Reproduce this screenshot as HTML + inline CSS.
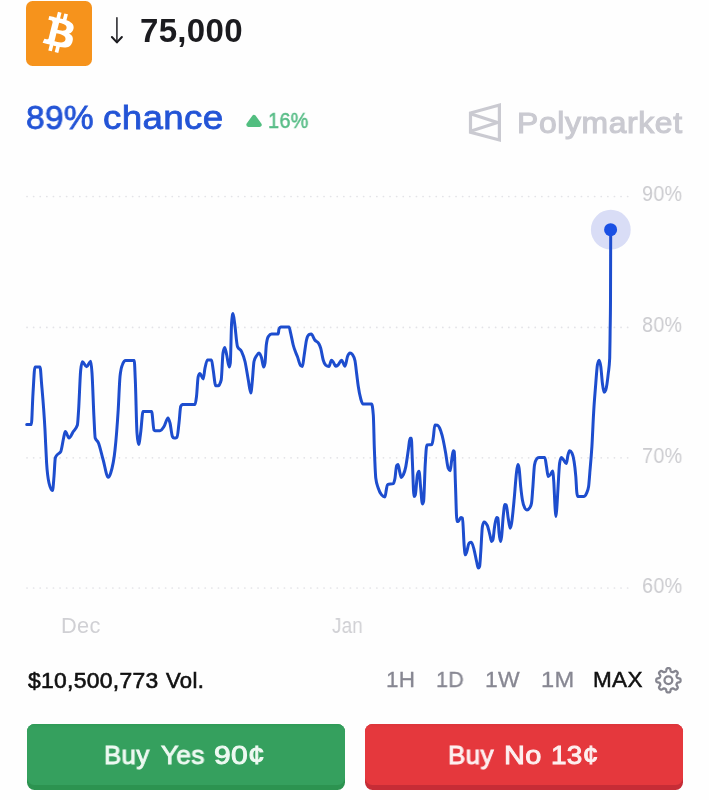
<!DOCTYPE html>
<html><head><meta charset="utf-8">
<style>
html,body{margin:0;padding:0;}
body{width:709px;height:800px;background:#fefefe;position:relative;overflow:hidden;font-family:"Liberation Sans",sans-serif;}
.abs{position:absolute;white-space:nowrap;line-height:1;will-change:transform;}
#btc{left:26.1px;top:1px;width:66.2px;height:65px;border-radius:6.5px;background:#f6931c;}
.btn{position:absolute;top:724px;height:66px;border-radius:7.5px;}
.btn i{position:absolute;left:0;top:0;width:100%;height:60.5px;border-radius:7.5px;}
#yes{left:26.6px;width:318px;background:#2c9350;}
#yes i{background:linear-gradient(#2f9b57 0,#35a05e 4px,#35a05e 100%);}
#no{left:365px;width:318px;background:#c62c36;}
#no i{background:linear-gradient(#dd353a 0,#e5383d 4px,#e5383d 100%);}
</style></head><body>
<div class="abs" id="btc"></div>
<div class="btn" id="yes"><i></i></div>
<div class="btn" id="no"><i></i></div>
<svg class="abs" style="left:0;top:0" width="709" height="800" viewBox="0 0 709 800">
  <!-- bitcoin glyph -->
  <path transform="translate(26.800,0.500) scale(1.015)" fill="#fff" d="M46.103,27.444c0.637-4.258-2.605-6.547-7.038-8.074l1.438-5.768-3.511-0.875-1.400,5.616c-0.923-0.230-1.871-0.447-2.813-0.662l1.410-5.653-3.509-0.875-1.439,5.766c-0.764-0.174-1.514-0.346-2.242-0.527l0.004-0.018-4.842-1.209-0.934,3.750s2.605,0.597,2.550,0.634c1.422,0.355,1.679,1.296,1.636,2.042l-1.638,6.571c0.098,0.025,0.225,0.061,0.365,0.117-0.117-0.029-0.242-0.061-0.371-0.092l-2.296,9.205c-0.174,0.432-0.615,1.080-1.609,0.834,0.035,0.051-2.552-0.637-2.552-0.637l-1.743,4.019,4.569,1.139c0.850,0.213,1.683,0.436,2.503,0.646l-1.453,5.834,3.507,0.875,1.439-5.772c0.958,0.260,1.888,0.500,2.798,0.726l-1.434,5.745,3.511,0.875,1.453-5.823c5.987,1.133,10.489,0.676,12.384-4.739,1.527-4.360-0.076-6.875-3.226-8.515,2.294-0.529,4.022-2.038,4.483-5.155zM38.081,38.693c-1.085,4.360-8.426,2.003-10.806,1.412l1.928-7.729c2.380,0.594,10.012,1.770,8.878,6.317zM39.167,27.381c-0.990,3.966-7.100,1.951-9.082,1.457l1.748-7.010c1.982,0.494,8.365,1.416,7.334,5.553z"/>
  <!-- arrow -->
  <path d="M116.900,17.800 V42" fill="none" stroke="#3a3a3e" stroke-width="1.700" stroke-linecap="round"/><path d="M111.900,37 L116.900,42.400 L121.900,37" fill="none" stroke="#1b1b1f" stroke-width="2" stroke-linecap="round" stroke-linejoin="round"/>
  <!-- up triangle -->
  <path d="M254,116.900 L259.600,124.800 H248.400 Z" fill="#52be80" stroke="#52be80" stroke-width="4.200" stroke-linejoin="round"/>
  <!-- polymarket logo -->
  <g fill="none" stroke="#cacad1" stroke-width="3.200" stroke-linejoin="miter">
    <path d="M470.500,113 L499.400,105 V140 L470.500,132.300 Z"/>
    <path d="M472,114.300 L497.500,122.500 L472,130.700" stroke-linejoin="bevel"/>
  </g>
  <!-- gridlines -->
  <g stroke="#e3e3e7" stroke-width="1.700" stroke-dasharray="0.100 6.500" stroke-linecap="round">
    <line x1="27" y1="196.500" x2="629" y2="196.500"/>
    <line x1="27" y1="327.400" x2="629" y2="327.400"/>
    <line x1="27" y1="457.800" x2="629" y2="457.800"/>
    <line x1="27" y1="588" x2="629" y2="588"/>
  </g>
  <circle cx="610.800" cy="229.700" r="19.900" fill="#d9ddf6"/>
  <path d="M26.7,424.6 C28.2,424.6 29.8,424.6 31.3,424.6 C31.9,424.6 32.4,402.4 33.0,393.3 C33.7,382.6 34.3,367.0 35.0,367.0 C36.7,367.0 38.3,367.0 40.0,367.0 C40.6,367.0 41.1,378.4 41.7,385.0 C42.8,397.8 43.9,409.8 45.0,430.0 C45.5,439.8 46.1,454.6 46.6,463.0 C47.4,475.6 48.2,479.5 49.0,483.0 C50.2,488.1 51.3,490.6 52.5,490.6 C53.0,490.6 53.5,482.5 54.0,476.5 C54.4,471.3 54.9,459.5 55.3,458.0 C55.9,456.0 56.4,455.9 57.0,455.0 C58.3,453.1 59.5,453.8 60.8,451.5 C61.7,449.8 62.7,441.9 63.6,438.0 C64.2,435.6 64.7,431.5 65.3,431.5 C66.5,431.5 67.8,438.0 69.0,438.0 C70.4,438.0 71.9,433.7 73.3,431.5 C74.7,429.4 76.0,429.3 77.4,425.0 C77.8,423.7 78.2,416.0 78.6,410.0 C79.3,399.6 80.0,376.8 80.7,370.0 C81.3,364.5 81.8,361.7 82.4,361.7 C83.8,361.7 85.2,366.7 86.6,366.7 C88.0,366.7 89.3,361.3 90.7,361.3 C91.1,361.3 91.6,366.8 92.0,373.0 C92.7,382.5 93.3,405.4 94.0,418.0 C94.4,425.5 94.8,436.8 95.2,438.0 C96.2,440.9 97.2,440.2 98.2,442.4 C99.9,446.1 101.5,454.2 103.2,460.0 C104.9,465.8 106.5,477.3 108.2,477.3 C109.0,477.3 109.9,475.5 110.7,473.0 C112.1,468.6 113.6,463.5 115.0,450.0 C116.1,439.9 117.1,427.5 118.2,410.0 C118.8,400.2 119.4,382.7 120.0,376.6 C120.8,368.9 121.5,367.0 122.3,365.0 C123.4,362.0 124.6,360.5 125.7,360.5 C128.5,360.5 131.4,360.5 134.2,360.5 C134.6,360.5 134.9,371.6 135.3,380.0 C135.9,393.0 136.4,424.9 137.0,433.0 C137.5,440.7 138.1,444.5 138.6,444.5 C139.3,444.5 140.1,437.0 140.8,431.5 C141.5,426.0 142.3,411.5 143.0,411.5 C145.9,411.5 148.7,411.5 151.6,411.5 C152.4,411.5 153.2,428.9 154.0,430.0 C154.3,430.5 154.7,430.7 155.0,430.7 C156.7,430.7 158.3,430.7 160.0,430.7 C161.3,430.7 162.7,428.6 164.0,426.5 C165.3,424.4 166.7,418.0 168.0,418.0 C168.7,418.0 169.3,420.4 170.0,423.0 C170.8,426.1 171.6,435.0 172.4,436.5 C172.9,437.5 173.5,438.0 174.0,438.0 C175.0,438.0 176.0,437.8 177.0,437.3 C177.7,437.0 178.3,428.7 179.0,423.0 C179.6,418.2 180.1,407.8 180.7,406.5 C181.3,405.2 181.8,404.5 182.4,404.5 C186.6,404.5 190.8,404.5 195.0,404.5 C195.5,404.5 196.0,400.7 196.5,396.5 C197.1,391.8 197.6,378.5 198.2,376.6 C198.8,374.6 199.4,373.6 200.0,373.6 C201.1,373.6 202.1,379.0 203.2,379.0 C203.8,379.0 204.4,371.0 205.0,368.0 C205.8,364.1 206.6,360.0 207.4,360.0 C208.8,360.0 210.1,360.0 211.5,360.0 C212.1,360.0 212.6,366.6 213.2,370.0 C214.0,375.0 214.9,385.7 215.7,385.7 C216.5,385.7 217.4,385.7 218.2,385.7 C219.2,385.7 220.2,383.8 221.2,380.0 C221.8,377.7 222.4,357.0 223.0,353.0 C223.6,349.3 224.1,347.4 224.7,347.4 C225.4,347.4 226.0,352.2 226.7,355.0 C227.5,358.5 228.4,367.0 229.2,367.0 C229.6,367.0 229.9,365.7 230.3,363.0 C230.7,359.8 231.2,328.8 231.6,323.0 C232.1,316.7 232.5,313.6 233.0,313.6 C233.5,313.6 234.1,319.4 234.6,323.0 C235.6,329.5 236.5,344.2 237.5,346.6 C238.9,349.9 240.2,348.7 241.6,351.6 C242.7,354.0 243.9,356.7 245.0,361.5 C246.1,366.2 247.2,374.1 248.3,380.0 C249.1,384.5 250.0,393.0 250.8,393.0 C251.3,393.0 251.9,385.2 252.4,380.0 C252.9,374.8 253.5,363.9 254.0,361.5 C254.9,357.6 255.7,357.1 256.6,355.7 C257.4,354.4 258.2,353.0 259.0,353.0 C259.9,353.0 260.7,355.1 261.6,358.0 C262.3,360.3 262.9,367.0 263.6,367.0 C264.1,367.0 264.5,365.7 265.0,363.0 C265.4,360.5 265.9,348.6 266.3,345.0 C267.0,339.4 267.6,337.7 268.3,336.6 C269.4,334.9 270.5,334.0 271.6,334.0 C273.8,334.0 276.0,334.0 278.2,334.0 C278.5,334.0 278.7,329.6 279.0,329.0 C279.6,327.7 280.1,327.0 280.7,327.0 C283.5,327.0 286.2,327.0 289.0,327.0 C289.6,327.0 290.1,331.0 290.7,333.3 C291.5,336.7 292.4,341.7 293.2,345.0 C294.6,350.6 296.0,352.7 297.4,356.6 C298.5,359.6 299.6,364.7 300.7,365.7 C301.3,366.2 301.8,366.5 302.4,366.5 C302.9,366.5 303.5,360.0 304.0,356.6 C304.8,351.3 305.7,343.6 306.5,340.0 C307.3,336.4 308.2,335.1 309.0,334.6 C309.7,334.2 310.5,334.0 311.2,334.0 C312.4,334.0 313.6,338.4 314.8,340.0 C316.2,341.9 317.6,341.3 319.0,344.0 C319.6,345.1 320.1,346.3 320.7,348.2 C321.5,351.0 322.4,357.2 323.2,360.0 C324.0,362.8 324.9,364.5 325.7,365.2 C326.8,366.1 327.9,366.5 329.0,366.5 C329.8,366.5 330.6,360.2 331.4,360.2 C332.1,360.2 332.8,361.5 333.5,362.5 C334.2,363.5 334.9,366.2 335.6,366.2 C336.4,366.2 337.2,365.7 338.0,365.0 C339.2,364.0 340.4,360.3 341.6,360.3 C342.7,360.3 343.9,366.3 345.0,366.3 C345.8,366.3 346.7,358.8 347.5,356.6 C348.3,354.4 349.2,353.0 350.0,353.0 C350.8,353.0 351.7,353.5 352.5,354.6 C353.3,355.7 354.2,356.7 355.0,360.8 C355.5,363.4 356.1,369.1 356.6,373.3 C357.2,377.7 357.7,382.8 358.3,386.6 C359.1,392.2 360.0,396.1 360.8,399.0 C361.5,401.6 362.3,404.0 363.0,404.0 C365.9,404.0 368.7,404.0 371.6,404.0 C372.2,404.0 372.7,407.7 373.3,415.0 C373.7,419.7 374.0,440.2 374.4,450.0 C374.9,462.5 375.3,474.5 375.8,478.2 C376.6,484.9 377.5,485.6 378.3,488.2 C379.4,491.7 380.5,493.6 381.6,494.9 C382.7,496.2 383.9,496.9 385.0,496.9 C385.4,496.9 385.9,492.0 386.3,489.9 C386.7,487.9 387.1,484.7 387.5,484.6 C389.4,483.9 391.4,484.3 393.3,483.6 C393.9,483.4 394.4,481.4 395.0,478.2 C395.5,475.2 396.1,466.5 396.6,465.7 C397.1,465.0 397.5,464.6 398.0,464.6 C398.7,464.6 399.3,470.8 400.0,473.2 C400.4,474.8 400.9,477.4 401.3,477.4 C402.0,477.4 402.6,476.3 403.3,474.9 C404.1,473.1 405.0,470.8 405.8,466.6 C406.6,462.5 407.5,455.7 408.3,450.0 C408.9,446.2 409.4,438.3 410.0,438.3 C410.4,438.3 410.9,438.3 411.3,438.3 C411.7,438.3 412.0,453.7 412.4,461.6 C412.9,473.0 413.5,496.5 414.0,496.5 C414.4,496.5 414.9,496.0 415.3,494.9 C416.0,493.2 416.7,478.1 417.4,474.9 C417.9,472.4 418.5,471.2 419.0,471.2 C419.6,471.2 420.1,482.7 420.7,488.2 C421.3,493.7 421.8,504.0 422.4,504.0 C422.8,504.0 423.2,503.2 423.6,501.5 C424.1,499.3 424.7,474.2 425.2,464.9 C425.8,455.0 426.3,445.1 426.9,445.0 C428.6,444.7 430.2,444.9 431.9,444.6 C432.3,444.5 432.8,441.0 433.2,438.3 C433.8,434.8 434.3,425.0 434.9,425.0 C435.7,425.0 436.6,425.1 437.4,425.3 C438.5,425.6 439.6,427.7 440.7,430.8 C441.5,433.1 442.4,436.2 443.2,440.0 C444.0,443.8 444.9,448.6 445.7,453.3 C446.5,458.0 447.4,466.1 448.2,468.2 C448.9,469.9 449.5,470.7 450.2,470.7 C450.6,470.7 451.1,464.5 451.5,461.6 C452.1,457.8 452.6,450.8 453.2,450.8 C453.6,450.8 453.9,451.1 454.3,451.6 C454.6,452.1 455.0,471.0 455.3,480.0 C455.9,495.3 456.4,521.5 457.0,521.5 C457.4,521.5 457.9,521.5 458.3,521.5 C459.1,521.5 460.0,517.4 460.8,517.4 C461.4,517.4 461.9,517.7 462.5,518.2 C463.0,518.7 463.6,538.5 464.1,544.8 C464.5,549.6 464.9,554.8 465.3,554.8 C465.7,554.8 466.2,553.4 466.6,552.3 C467.4,550.2 468.3,543.9 469.1,543.2 C469.8,542.6 470.6,542.3 471.3,542.3 C472.2,542.3 473.2,546.3 474.1,549.8 C474.9,552.9 475.8,558.0 476.6,561.5 C477.2,563.9 477.7,568.1 478.3,568.1 C478.7,568.1 479.2,567.6 479.6,566.5 C480.0,565.5 480.4,557.0 480.8,551.5 C481.3,544.1 481.9,529.4 482.4,526.5 C483.0,523.4 483.5,521.9 484.1,521.9 C485.2,521.9 486.3,523.2 487.4,525.7 C488.2,527.6 489.1,531.7 489.9,534.9 C490.5,537.1 491.0,541.5 491.6,541.5 C492.0,541.5 492.5,540.9 492.9,539.8 C493.5,538.3 494.0,530.1 494.6,526.5 C495.3,522.3 495.9,517.4 496.6,517.4 C497.0,517.4 497.5,517.7 497.9,518.2 C498.3,518.7 498.7,529.4 499.1,533.2 C499.5,537.3 500.0,541.5 500.4,541.5 C500.8,541.5 501.2,539.6 501.6,536.5 C502.1,532.4 502.7,521.7 503.2,516.5 C503.8,510.9 504.3,504.6 504.9,504.6 C505.3,504.6 505.8,504.7 506.2,504.9 C506.9,505.2 507.5,514.3 508.2,518.2 C508.9,522.1 509.5,528.2 510.2,528.2 C510.7,528.2 511.1,525.8 511.6,523.2 C512.4,518.5 513.3,508.5 514.1,499.9 C514.9,491.3 515.8,477.8 516.6,471.6 C517.0,468.4 517.5,464.6 517.9,464.6 C518.3,464.6 518.7,465.8 519.1,468.3 C519.6,471.6 520.2,481.4 520.7,486.6 C521.3,492.1 521.8,496.5 522.4,499.9 C523.2,504.9 524.1,506.8 524.9,508.2 C525.6,509.3 526.2,509.9 526.9,509.9 C527.9,509.9 528.9,509.1 529.9,507.4 C530.4,506.5 531.0,506.0 531.5,503.2 C532.0,500.8 532.4,492.5 532.9,486.6 C533.4,479.9 534.0,468.1 534.5,465.0 C535.2,461.1 535.8,460.0 536.5,459.1 C537.3,458.0 538.2,457.5 539.0,457.5 C540.9,457.5 542.9,457.5 544.8,457.5 C545.4,457.5 545.9,463.4 546.5,466.6 C547.1,469.8 547.6,476.6 548.2,476.6 C549.0,476.6 549.9,475.2 550.7,474.1 C551.3,473.2 552.0,471.0 552.6,471.0 C553.0,471.0 553.4,476.3 553.8,482.0 C554.2,488.2 554.7,501.8 555.1,508.0 C555.4,511.8 555.6,516.5 555.9,516.5 C556.2,516.5 556.5,511.7 556.8,508.0 C557.2,503.0 557.6,494.7 558.0,488.2 C558.5,479.6 559.1,466.8 559.6,463.2 C560.2,459.3 560.7,457.4 561.3,457.4 C562.1,457.4 562.8,459.0 563.6,459.9 C564.5,461.0 565.4,463.5 566.3,463.5 C566.9,463.5 567.4,457.1 568.0,454.9 C568.5,452.9 569.1,450.7 569.6,450.7 C570.4,450.7 571.2,451.5 572.0,453.2 C572.7,454.7 573.4,456.8 574.1,461.5 C574.7,465.3 575.2,469.3 575.8,476.5 C576.2,481.1 576.5,490.6 576.9,493.1 C577.2,495.4 577.6,496.5 577.9,496.5 C579.8,496.5 581.7,496.5 583.6,496.5 C584.6,496.5 585.6,495.4 586.6,493.1 C587.3,491.6 587.9,490.9 588.6,486.5 C589.0,483.6 589.5,476.7 589.9,471.5 C590.6,463.6 591.2,457.5 591.9,446.6 C592.5,437.4 593.0,422.9 593.6,413.3 C594.3,400.8 595.1,392.3 595.8,383.2 C596.3,376.6 596.9,368.0 597.4,365.0 C598.0,361.8 598.5,360.2 599.1,360.2 C599.7,360.2 600.2,362.5 600.8,366.6 C601.3,370.4 601.9,379.0 602.4,383.2 C603.0,387.7 603.5,392.3 604.1,392.3 C604.7,392.3 605.2,391.5 605.8,389.9 C606.6,387.5 607.5,380.9 608.3,373.2 C608.8,368.9 609.2,368.2 609.7,358.2 C609.8,355.3 610.0,343.0 610.1,333.3 C610.2,323.6 610.4,322.2 610.5,300.0 C610.6,288.9 610.6,253.3 610.7,230.0" fill="none" stroke="#1d4dce" stroke-width="3" stroke-linejoin="round" stroke-linecap="round"/>
  <circle cx="610.600" cy="229.700" r="6.500" fill="#1a50e4"/>
  <!-- gear -->
  <g transform="translate(668.400,680.300)" fill="none" stroke="#85858f" stroke-width="2.300" stroke-linejoin="round">
    <circle r="3.900"/>
    <path d="M0.00,-12.15 L0.32,-12.14 L0.63,-12.11 L0.95,-12.05 L1.25,-11.94 L1.54,-11.72 L1.80,-11.34 L1.99,-10.75 L2.13,-10.04 L2.27,-9.45 L2.43,-9.06 L2.61,-8.82 L2.82,-8.67 L3.03,-8.55 L3.25,-8.45 L3.46,-8.36 L3.68,-8.27 L3.91,-8.19 L4.14,-8.12 L4.39,-8.08 L4.69,-8.12 L5.08,-8.28 L5.59,-8.61 L6.19,-9.01 L6.75,-9.29 L7.20,-9.38 L7.55,-9.33 L7.85,-9.19 L8.11,-9.01 L8.36,-8.81 L8.59,-8.59 L8.81,-8.36 L9.01,-8.11 L9.19,-7.85 L9.33,-7.55 L9.38,-7.20 L9.29,-6.75 L9.01,-6.19 L8.61,-5.59 L8.28,-5.08 L8.12,-4.69 L8.08,-4.39 L8.12,-4.14 L8.19,-3.91 L8.27,-3.68 L8.36,-3.46 L8.45,-3.25 L8.55,-3.03 L8.67,-2.82 L8.82,-2.61 L9.06,-2.43 L9.45,-2.27 L10.04,-2.13 L10.75,-1.99 L11.34,-1.80 L11.72,-1.54 L11.94,-1.25 L12.05,-0.95 L12.11,-0.63 L12.14,-0.32 L12.15,-0.00 L12.14,0.32 L12.11,0.63 L12.05,0.95 L11.94,1.25 L11.72,1.54 L11.34,1.80 L10.75,1.99 L10.04,2.13 L9.45,2.27 L9.06,2.43 L8.82,2.61 L8.67,2.82 L8.55,3.03 L8.45,3.25 L8.36,3.46 L8.27,3.68 L8.19,3.91 L8.12,4.14 L8.08,4.39 L8.12,4.69 L8.28,5.08 L8.61,5.59 L9.01,6.19 L9.29,6.75 L9.38,7.20 L9.33,7.55 L9.19,7.85 L9.01,8.11 L8.81,8.36 L8.59,8.59 L8.36,8.81 L8.11,9.01 L7.85,9.19 L7.55,9.33 L7.20,9.38 L6.75,9.29 L6.19,9.01 L5.59,8.61 L5.08,8.28 L4.69,8.12 L4.39,8.08 L4.14,8.12 L3.91,8.19 L3.68,8.27 L3.46,8.36 L3.25,8.45 L3.03,8.55 L2.82,8.67 L2.61,8.82 L2.43,9.06 L2.27,9.45 L2.13,10.04 L1.99,10.75 L1.80,11.34 L1.54,11.72 L1.25,11.94 L0.95,12.05 L0.63,12.11 L0.32,12.14 L0.00,12.15 L-0.32,12.14 L-0.63,12.11 L-0.95,12.05 L-1.25,11.94 L-1.54,11.72 L-1.80,11.34 L-1.99,10.75 L-2.13,10.04 L-2.27,9.45 L-2.43,9.06 L-2.61,8.82 L-2.82,8.67 L-3.03,8.55 L-3.25,8.45 L-3.46,8.36 L-3.68,8.27 L-3.91,8.19 L-4.14,8.12 L-4.39,8.08 L-4.69,8.12 L-5.08,8.28 L-5.59,8.61 L-6.19,9.01 L-6.75,9.29 L-7.20,9.38 L-7.55,9.33 L-7.85,9.19 L-8.11,9.01 L-8.36,8.81 L-8.59,8.59 L-8.81,8.36 L-9.01,8.11 L-9.19,7.85 L-9.33,7.55 L-9.38,7.20 L-9.29,6.75 L-9.01,6.19 L-8.61,5.59 L-8.28,5.08 L-8.12,4.69 L-8.08,4.39 L-8.12,4.14 L-8.19,3.91 L-8.27,3.68 L-8.36,3.46 L-8.45,3.25 L-8.55,3.03 L-8.67,2.82 L-8.82,2.61 L-9.06,2.43 L-9.45,2.27 L-10.04,2.13 L-10.75,1.99 L-11.34,1.80 L-11.72,1.54 L-11.94,1.25 L-12.05,0.95 L-12.11,0.63 L-12.14,0.32 L-12.15,0.00 L-12.14,-0.32 L-12.11,-0.63 L-12.05,-0.95 L-11.94,-1.25 L-11.72,-1.54 L-11.34,-1.80 L-10.75,-1.99 L-10.04,-2.13 L-9.45,-2.27 L-9.06,-2.43 L-8.82,-2.61 L-8.67,-2.82 L-8.55,-3.03 L-8.45,-3.25 L-8.36,-3.46 L-8.27,-3.68 L-8.19,-3.91 L-8.12,-4.14 L-8.08,-4.39 L-8.12,-4.69 L-8.28,-5.08 L-8.61,-5.59 L-9.01,-6.19 L-9.29,-6.75 L-9.38,-7.20 L-9.33,-7.55 L-9.19,-7.85 L-9.01,-8.11 L-8.81,-8.36 L-8.59,-8.59 L-8.36,-8.81 L-8.11,-9.01 L-7.85,-9.19 L-7.55,-9.33 L-7.20,-9.38 L-6.75,-9.29 L-6.19,-9.01 L-5.59,-8.61 L-5.08,-8.28 L-4.69,-8.12 L-4.39,-8.08 L-4.14,-8.12 L-3.91,-8.19 L-3.68,-8.27 L-3.46,-8.36 L-3.25,-8.45 L-3.03,-8.55 L-2.82,-8.67 L-2.61,-8.82 L-2.43,-9.06 L-2.27,-9.45 L-2.13,-10.04 L-1.99,-10.75 L-1.80,-11.34 L-1.54,-11.72 L-1.25,-11.94 L-0.95,-12.05 L-0.63,-12.11 L-0.32,-12.14 Z"/>
  </g>
</svg>
<div class="abs" style="left:139.58px;top:14.80px;font-size:32.6px;font-weight:bold;color:#1b1b1f;letter-spacing:0.3px;transform-origin:0 50%;transform:scaleX(1.0145);">75,000</div>
<div class="abs" style="left:26.24px;top:100.00px;font-size:34px;color:#2354d6;letter-spacing:0.3px;-webkit-text-stroke:0.8px #2354d6;transform-origin:0 50%;transform:scaleX(0.9826);">89%</div>
<div class="abs" style="left:102.67px;top:100.00px;font-size:34px;color:#2354d6;letter-spacing:0.3px;-webkit-text-stroke:0.8px #2354d6;transform-origin:0 50%;transform:scaleX(1.0809);">chance</div>
<div class="abs" style="left:267.79px;top:109.70px;font-size:21.8px;color:#57bc86;letter-spacing:0.3px;-webkit-text-stroke:0.45px #57bc86;transform-origin:0 50%;transform:scaleX(0.9137);">16%</div>
<div class="abs" style="left:517.36px;top:107.55px;font-size:30.3px;color:#cacad1;letter-spacing:0.6px;-webkit-text-stroke:1.1px #cacad1;transform-origin:0 50%;transform:scaleX(1.0519);">Polymarket</div>
<div class="abs" style="left:642.37px;top:183.00px;font-size:22.2px;color:#cbcbcf;letter-spacing:0.3px;transform-origin:0 50%;transform:scaleX(0.8912);">90%</div>
<div class="abs" style="left:642.44px;top:314.00px;font-size:22.2px;color:#cbcbcf;letter-spacing:0.3px;transform-origin:0 50%;transform:scaleX(0.8896);">80%</div>
<div class="abs" style="left:642.28px;top:445.00px;font-size:22.2px;color:#cbcbcf;letter-spacing:0.3px;transform-origin:0 50%;transform:scaleX(0.8932);">70%</div>
<div class="abs" style="left:642.29px;top:575.00px;font-size:22.2px;color:#cbcbcf;letter-spacing:0.3px;transform-origin:0 50%;transform:scaleX(0.8930);">60%</div>
<div class="abs" style="left:60.53px;top:614.50px;font-size:21.8px;color:#d0d0d4;letter-spacing:0.3px;transform-origin:0 50%;transform:scaleX(0.9891);">Dec</div>
<div class="abs" style="left:332.01px;top:614.50px;font-size:21.8px;color:#d0d0d4;letter-spacing:0.3px;transform-origin:0 50%;transform:scaleX(0.8620);">Jan</div>
<div class="abs" style="left:27.57px;top:670.40px;font-size:21.6px;color:#111;letter-spacing:0.3px;-webkit-text-stroke:0.6px #111;transform-origin:0 50%;transform:scaleX(1.0585);">$10,500,773</div>
<div class="abs" style="left:166.21px;top:670.40px;font-size:21.6px;color:#111;letter-spacing:0.3px;-webkit-text-stroke:0.6px #111;transform-origin:0 50%;transform:scaleX(1.0231);">Vol.</div>
<div class="abs" style="left:386.44px;top:669.30px;font-size:22px;color:#878792;letter-spacing:0.3px;-webkit-text-stroke:0.3px #878792;transform-origin:0 50%;transform:scaleX(1.0216);">1H</div>
<div class="abs" style="left:435.61px;top:669.30px;font-size:22px;color:#878792;letter-spacing:0.3px;-webkit-text-stroke:0.3px #878792;transform-origin:0 50%;transform:scaleX(0.9771);">1D</div>
<div class="abs" style="left:485.21px;top:669.30px;font-size:22px;color:#878792;letter-spacing:0.3px;-webkit-text-stroke:0.3px #878792;transform-origin:0 50%;transform:scaleX(1.0424);">1W</div>
<div class="abs" style="left:541.46px;top:669.30px;font-size:22px;color:#878792;letter-spacing:0.3px;-webkit-text-stroke:0.3px #878792;transform-origin:0 50%;transform:scaleX(1.0765);">1M</div>
<div class="abs" style="left:592.91px;top:669.30px;font-size:22px;color:#111;letter-spacing:0.3px;-webkit-text-stroke:0.5px #111;transform-origin:0 50%;transform:scaleX(1.0235);">MAX</div>
<div class="abs" style="left:104.04px;top:741.70px;font-size:26.6px;color:#eef9f2;letter-spacing:0.3px;-webkit-text-stroke:0.95px #eef9f2;transform-origin:0 50%;transform:scaleX(0.9723);">Buy</div>
<div class="abs" style="left:161.39px;top:741.70px;font-size:26.6px;color:#eef9f2;letter-spacing:0.3px;-webkit-text-stroke:0.95px #eef9f2;transform-origin:0 50%;transform:scaleX(0.9860);">Yes</div>
<div class="abs" style="left:214.23px;top:741.70px;font-size:26.6px;color:#eef9f2;letter-spacing:0.3px;-webkit-text-stroke:0.95px #eef9f2;transform-origin:0 50%;transform:scaleX(1.1296);">90¢</div>
<div class="abs" style="left:448.03px;top:741.70px;font-size:26.6px;color:#fdf0f0;letter-spacing:0.3px;-webkit-text-stroke:0.95px #fdf0f0;transform-origin:0 50%;transform:scaleX(0.9789);">Buy</div>
<div class="abs" style="left:503.74px;top:741.70px;font-size:26.6px;color:#fdf0f0;letter-spacing:0.3px;-webkit-text-stroke:0.95px #fdf0f0;transform-origin:0 50%;transform:scaleX(1.0891);">No</div>
<div class="abs" style="left:551.37px;top:741.70px;font-size:26.6px;color:#fdf0f0;letter-spacing:0.3px;-webkit-text-stroke:0.95px #fdf0f0;transform-origin:0 50%;transform:scaleX(1.0512);">13¢</div>
</body></html>
